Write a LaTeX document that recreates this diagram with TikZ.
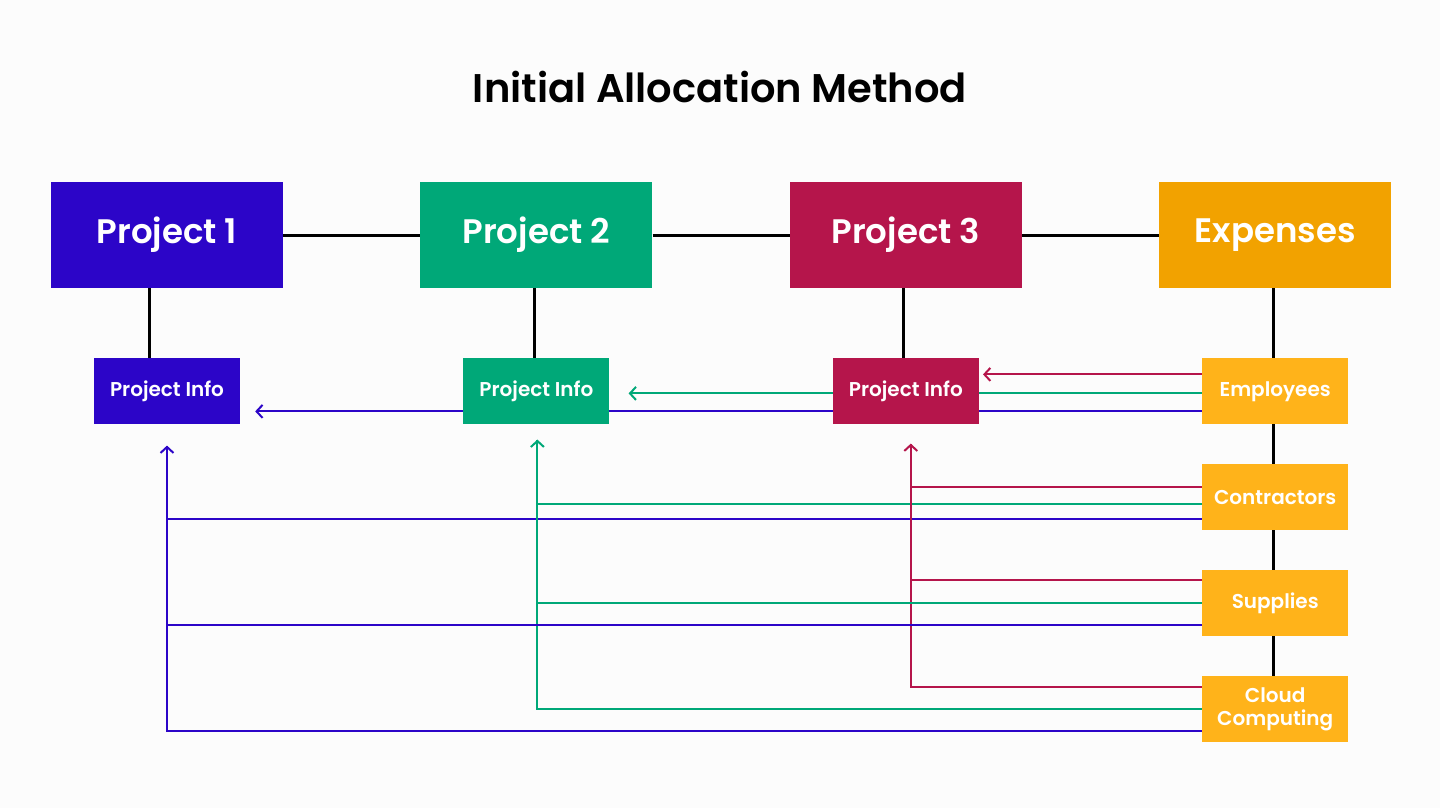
\documentclass[tikz,border=0pt]{standalone}
\usepackage{fontspec}
\setmainfont{Poppins}[BoldFont={Poppins SemiBold}]
\usetikzlibrary{positioning, backgrounds, arrows.meta}

\definecolor{projblue}{HTML}{2C05C8}
\definecolor{projgreen}{HTML}{00A878}
\definecolor{projred}{HTML}{B5154B}
\definecolor{exporange}{HTML}{F2A200}
\definecolor{itemorange}{HTML}{FFB31A}
\definecolor{pagebg}{HTML}{FCFCFC}

\begin{document}
\begin{tikzpicture}[x=1pt, y=-1pt,
        node distance=70pt and 137pt,
        % --- Styles ---
        headbox/.style={rectangle, minimum width=232pt, minimum height=106pt, text=white, font=\fontsize{34}{38}\selectfont\bfseries},
        infobox/.style={rectangle, minimum width=146pt, minimum height=66pt, text=white, align=center, font=\fontsize{20}{23}\selectfont\bfseries},
        % --- Line Styles ---
        link/.style={draw, black, line width=3pt},
        feed/.style={draw, line width=2pt},
        arr/.style={feed, -{Straight Barb[length=6pt, width=13pt]}}
    ]
        \useasboundingbox (0,0) rectangle (1440,808);

        \node[font=\fontsize{40}{46}\selectfont\bfseries] (title) at (720,87) {Initial Allocation Method};

        % --- Top Row (Projects & Expenses) ---
        \node[headbox, fill=projblue] (p1) at (167,235) {Project 1};
        \node[headbox, fill=projgreen, right=of p1] (p2) {Project 2};
        \node[headbox, fill=projred, right=of p2] (p3) {Project 3};
        \node[headbox, fill=exporange, right=of p3] (exp) {Expenses};

        % --- Info Row ---
        \node[infobox, fill=projblue, below=of p1] (p1info) {Project Info};
        \node[infobox, fill=projgreen, below=of p2] (p2info) {Project Info};
        \node[infobox, fill=projred, below=of p3] (p3info) {Project Info};

        % --- Expense Column ---
        \node[infobox, fill=itemorange, below=of exp] (emp) {Employees};
        \node[infobox, fill=itemorange, below=39.5pt of emp] (contr) {Contractors};
        \node[infobox, fill=itemorange, below=39.5pt of contr] (supp) {Supplies};
        \node[infobox, fill=itemorange, below=39.5pt of supp] (cloud) {Cloud\\Computing};

        % --- Arrow tips under the info boxes ---
        \coordinate (bluetip) at ([yshift=-21pt]p1info.south);
        \coordinate (greentip) at ([xshift=1pt, yshift=-15pt]p2info.south);
        \coordinate (redtip) at ([xshift=5pt, yshift=-19pt]p3info.south);

        \begin{scope}[on background layer]
            \fill[pagebg] (0,0) rectangle (1440,808);

            % --- Tree Links ---
            \draw[link] (p1.east) -- (p2.west);
            \draw[link] (p2.east) -- (p3.west);
            \draw[link] (p3.east) -- (exp.west);
            \draw[link] ([xshift=-18pt]p1.south) -- ([xshift=-18pt]p1info.north);
            \draw[link] ([xshift=-2pt]p2.south) -- ([xshift=-2pt]p2info.north);
            \draw[link] ([xshift=-2pt]p3.south) -- ([xshift=-2pt]p3info.north);
            \draw[link] ([xshift=-2pt]exp.south) -- ([xshift=-2pt]cloud.north);

            % --- Employees ---
            \draw[arr, projred] ([yshift=17pt]emp.west) -- ([xshift=4pt, yshift=17pt]p3info.east);
            \draw[arr, projgreen] ([yshift=-2pt]emp.west) -- ([xshift=19pt, yshift=-2pt]p2info.east);
            \draw[arr, projblue] ([yshift=-20pt]emp.west) -- ([xshift=15pt, yshift=-20pt]p1info.east);

            % --- Cloud Computing (carries the arrows) ---
            \draw[arr, projblue] ([yshift=-22pt]cloud.west) -| (bluetip);
            \draw[arr, projgreen] (cloud.west) -| (greentip);
            \draw[arr, projred] ([yshift=22pt]cloud.west) -| (redtip);

            % --- Contractors & Supplies ---
            \draw[feed, projred] ([yshift=10pt]contr.west) -| (redtip);
            \draw[feed, projgreen] ([yshift=-7pt]contr.west) -| (greentip);
            \draw[feed, projblue] ([yshift=-22pt]contr.west) -| (bluetip);
            \draw[feed, projred] ([yshift=23pt]supp.west) -| (redtip);
            \draw[feed, projgreen] (supp.west) -| (greentip);
            \draw[feed, projblue] ([yshift=-22pt]supp.west) -| (bluetip);
        \end{scope}

    \end{tikzpicture}
\end{document}
